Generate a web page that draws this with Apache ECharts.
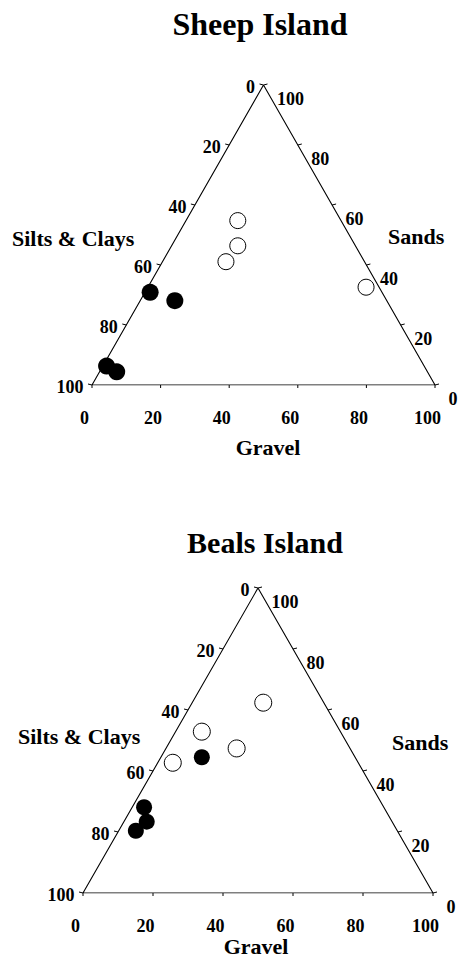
<!DOCTYPE html>
<html><head><meta charset="utf-8">
<script src="https://cdn.jsdelivr.net/npm/echarts@6/dist/echarts.min.js"></script>
<style>html,body{margin:0;padding:0;background:#fff}#chart{width:458px;height:961px}</style>
</head><body><div id="chart"></div>
<script>
// ---------- data ----------
const panelTitles = ['Sheep Island', 'Beals Island'];
const axisNames = ['Silts & Clays', 'Sands', 'Gravel'];
const tickValues = [0, 20, 40, 60, 80, 100];
// Each sample: gravel %, sands % (silts & clays = remainder)
const sheepFilledGravel = [1.5, 10.1, 1.1, 5.0];
const sheepFilledSands  = [30.9, 28.1, 6.3, 4.4];
const sheepOpenGravel   = [15.1, 19.3, 18.5, 63.6];
const sheepOpenSands    = [54.8, 46.4, 41.1, 32.6];
const bealsFilledGravel = [11.7, 3.4, 6.5, 4.9];
const bealsFilledSands  = [44.5, 28.1, 23.4, 20.4];
const bealsOpenGravel   = [20.3, 7.5, 20.2, 4.3];
const bealsOpenSands    = [62.4, 52.9, 47.4, 42.7];

// ---------- helpers ----------
const H = Math.sqrt(3) / 2;
function tern(gravel, sands) { return [gravel + sands / 2, sands * H]; }
const FONT = 'Liberation Serif';
const lblStyle = { fontFamily: FONT, fontWeight: 'bold', fontSize: 18, color: '#000', opacity: 1 };

function panel(gi, fG, fS, oG, oS, fSize, oSize) {
  const s = [];
  const base = { xAxisIndex: gi, yAxisIndex: gi, silent: true, animation: false };
  // triangle outline
  s.push(Object.assign({}, base, {
    type: 'line', symbol: 'none',
    data: [tern(0, 0), tern(100, 0), tern(0, 100), tern(0, 0)],
    lineStyle: { color: '#000', width: 1.1, opacity: 1 }, z: 2
  }));
  // small ticks
  const edges = [
    { pts: tickValues.map(v => tern(0, 100 - v)), d: [-4, -1] },
    { pts: tickValues.map(v => tern(100 - v, v)), d: [4, -1] },
    { pts: tickValues.map(v => tern(v, 0)), d: [0, 3] }
  ];
  edges.forEach(e => {
    s.push(Object.assign({}, base, {
      type: 'custom', data: e.pts,
      renderItem: (params, api) => {
        const p = api.coord([api.value(0), api.value(1)]);
        return { type: 'line', shape: { x1: p[0], y1: p[1], x2: p[0] + e.d[0], y2: p[1] + e.d[1] },
                 style: { stroke: '#000', lineWidth: 1 } };
      }
    }));
  });
  // tick labels
  const labelSets = [
    { pts: tickValues.map(v => ({ value: tern(0, 100 - v), name: String(v) })), pos: [-8, 2], align: 'right' },
    { pts: tickValues.map(v => ({ value: tern(100 - v, v), name: String(v) })), pos: [14, 14], align: 'left' },
    { pts: tickValues.map(v => ({ value: tern(v, 0), name: String(v) })), pos: [-7, 33], align: 'center' }
  ];
  labelSets.forEach(ls => {
    s.push(Object.assign({}, base, {
      type: 'scatter', symbol: 'circle', symbolSize: 1,
      itemStyle: { color: '#fff', opacity: 0 },
      data: ls.pts,
      label: Object.assign({ show: true, formatter: p => p.name, position: ls.pos,
        align: ls.align, verticalAlign: 'middle' }, lblStyle)
    }));
  });
  // samples
  s.push(Object.assign({}, base, {
    type: 'scatter', symbol: 'circle', symbolSize: oSize,
    data: oG.map((g, i) => tern(g, oS[i])),
    itemStyle: { color: '#fff', borderColor: '#000', borderWidth: 1, opacity: 1 }, z: 5
  }));
  s.push(Object.assign({}, base, {
    type: 'scatter', symbol: 'circle', symbolSize: fSize,
    data: fG.map((g, i) => tern(g, fS[i])),
    itemStyle: { color: '#000', opacity: 1 }, z: 6
  }));
  return s;
}

function txt(text, x, y, size, align) {
  return { type: 'text', x: x, y: y, silent: true,
    style: { text: text, font: 'bold ' + size + 'px "' + FONT + '"', fontFamily: FONT, fontWeight: 'bold', fontSize: size,
      fill: '#000', textAlign: align, align: align, textVerticalAlign: 'middle', verticalAlign: 'middle' } };
}

const chart = echarts.init(document.getElementById('chart'), null, { renderer: 'svg' });
const grids = [
  { left: 92, top: 85, width: 343, height: 300 },
  { left: 83, top: 588, width: 350, height: 305 }
];
const axisCommon = { type: 'value', min: 0, show: false, splitLine: { show: false } };
chart.setOption({
  animation: false,
  backgroundColor: '#fff',
  grid: grids,
  xAxis: [Object.assign({ gridIndex: 0, max: 100 }, axisCommon), Object.assign({ gridIndex: 1, max: 100 }, axisCommon)],
  yAxis: [Object.assign({ gridIndex: 0, max: 100 * H }, axisCommon), Object.assign({ gridIndex: 1, max: 100 * H }, axisCommon)],
  graphic: [
    txt(panelTitles[0], 260, 24, 32, 'center'),
    txt(axisNames[0], 12, 238, 22, 'left'),
    txt(axisNames[1], 388, 236, 22, 'left'),
    txt(axisNames[2], 268, 447, 22, 'center'),
    txt(panelTitles[1], 265, 542, 30, 'center'),
    txt(axisNames[0], 18, 736, 22, 'left'),
    txt(axisNames[1], 392, 742, 22, 'left'),
    txt(axisNames[2], 256, 946, 22, 'center')
  ],
  series: [].concat(
    panel(0, sheepFilledGravel, sheepFilledSands, sheepOpenGravel, sheepOpenSands, 17, 16),
    panel(1, bealsFilledGravel, bealsFilledSands, bealsOpenGravel, bealsOpenSands, 16, 17)
  )
});
</script></body></html>
